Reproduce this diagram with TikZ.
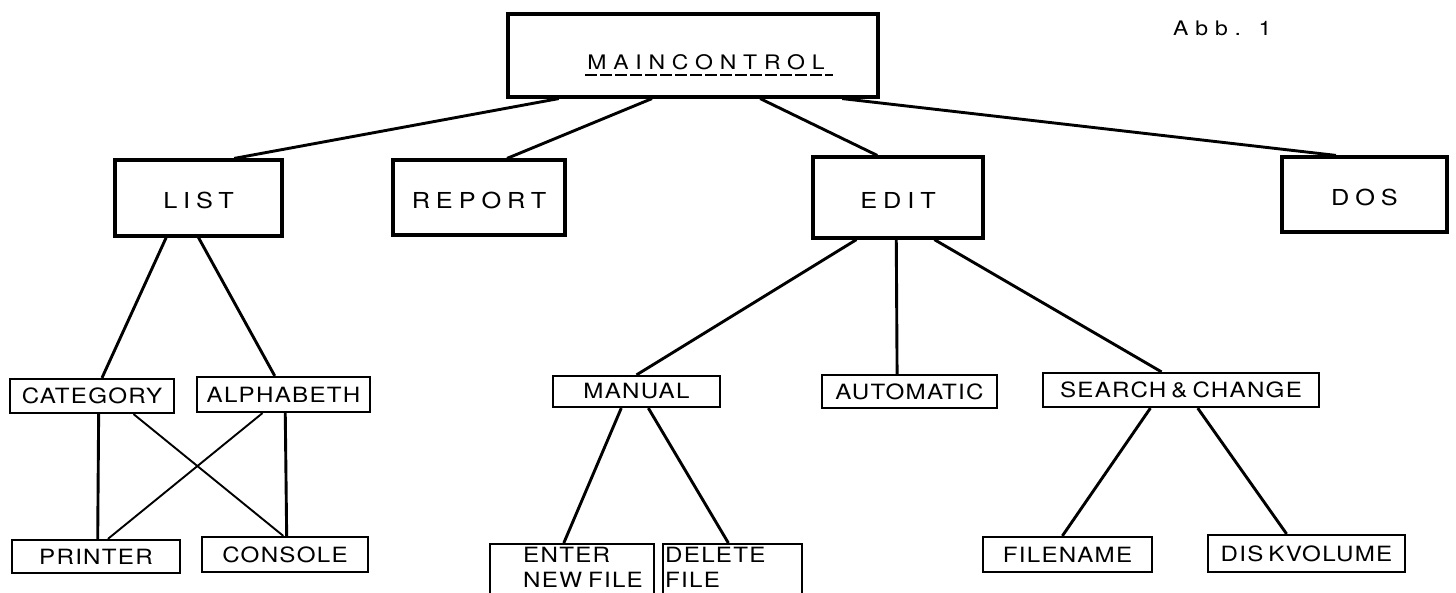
\documentclass[tikz,border=0pt]{standalone}
\usepackage{fontspec}
\usetikzlibrary{calc}
\newfontfamily\topfont[FakeStretch=1.15,LetterSpace=27]{TeX Gyre Heros}
\newfontfamily\titlefont[FakeStretch=1.15,LetterSpace=34]{TeX Gyre Heros}
\newfontfamily\lowfont[FakeStretch=1.15,LetterSpace=6]{TeX Gyre Heros}
\tikzset{
  topbox/.style={draw, line width=3.2pt, inner sep=0pt, text height=21pt, text depth=0pt, font=\topfont\fontsize{22}{26}\selectfont},
  lowbox/.style={draw, line width=2.2pt, inner sep=0pt, font=\lowfont\fontsize{21}{25}\selectfont},
  lowtext/.style={inner sep=0pt, align=left, font=\lowfont\fontsize{21}{25}\selectfont},
  toptext/.style={inner sep=0pt, font=\titlefont\fontsize{20}{24}\selectfont},
  link/.style={line width=2.9pt},
  thinlink/.style={line width=1.9pt},
}
\begin{document}
\begin{tikzpicture}[x=1pt,y=-1pt]
\useasboundingbox[fill=white] (0,0) rectangle (1456,592);
\clip (0,0) rectangle (1456,592);
% top level
\node[topbox, minimum width=370pt, minimum height=83pt] (main) at (693,55.5) {};
\node[toptext] (maintitle) at (706,62) {MAINCONTROL};
\draw[line width=1.8pt, dash pattern=on 12pt off 3pt] (585,75) -- (833,75);
\node[toptext, anchor=west] (abb) at (1173,28) {Abb. 1};
\node[topbox, minimum width=167pt, minimum height=76pt] (list) at (198.5,198) {LIST};
\node[topbox, minimum width=172pt, minimum height=75pt] (report) at (479,197.5) {REPORT};
\node[topbox, minimum width=170pt, minimum height=81pt] (edit) at (898,197.5) {EDIT};
\node[topbox, minimum width=165pt, minimum height=75pt] (dos) at (1364.5,194.5) {DOS};
% second / third level
\node[lowbox, minimum width=164pt, minimum height=34pt] (category) at (92,396) {CATEGORY};
\node[lowbox, minimum width=173pt, minimum height=35pt] (alphabeth) at (283.5,394.5) {ALPHABETH};
\node[lowbox, minimum width=168pt, minimum height=33pt] (printer) at (96,556.5) {PRINTER};
\node[lowbox, minimum width=166pt, minimum height=35pt] (console) at (285,554.5) {CONSOLE};
\node[lowbox, minimum width=167pt, minimum height=31pt] (manual) at (636.5,391.5) {MANUAL};
\node[lowbox, minimum width=175pt, minimum height=33pt] (automatic) at (909.5,391.5) {AUTOMATIC};
\node[lowbox, minimum width=276pt, minimum height=34pt] (search) at (1181,390) {SEARCH\hspace{5pt}\&\hspace{5pt}CHANGE};
\node[lowbox, minimum width=169pt, minimum height=35pt] (filename) at (1067.5,554.5) {FILENAME};
\node[lowbox, minimum width=197pt, minimum height=37pt] (diskvolume) at (1306.5,553.5) {DIS\hspace{5pt}KVOLUME};
\node[lowbox, anchor=north west, minimum width=164pt, minimum height=52pt] (enter) at (489,543) {};
\node[lowtext, anchor=north west] (entertext) at (523,547) {ENTER\\NEW\hspace{6pt}FILE};
\node[lowbox, anchor=north west, minimum width=139pt, minimum height=52pt] (delete) at (662,543) {};
\node[lowtext, anchor=north west] (deletetext) at (665,547) {DELETE\\FILE};
% connectors from MAINCONTROL
\draw[link] ($(main.south west)!.14!(main.south east)$) -- ($(list.north west)!.71!(list.north east)$);
\draw[link] ($(main.south west)!.39!(main.south east)$) -- ($(report.north west)!.66!(report.north east)$);
\draw[link] ($(main.south west)!.68!(main.south east)$) -- ($(edit.north west)!.38!(edit.north east)$);
\draw[link] ($(main.south west)!.90!(main.south east)$) -- ($(dos.north west)!.33!(dos.north east)$);
% LIST subtree
\draw[link] ($(list.south west)!.31!(list.south east)$) -- ($(category.north west)!.56!(category.north east)$);
\draw[link] ($(list.south west)!.50!(list.south east)$) -- ($(alphabeth.north west)!.45!(alphabeth.north east)$);
\draw[link] ($(category.south west)!.54!(category.south east)$) -- ($(printer.north west)!.51!(printer.north east)$);
\draw[thinlink] ($(category.south west)!.75!(category.south east)$) -- ($(console.north west)!.49!(console.north east)$);
\draw[thinlink] ($(alphabeth.south west)!.38!(alphabeth.south east)$) -- ($(printer.north west)!.57!(printer.north east)$);
\draw[link] ($(alphabeth.south west)!.51!(alphabeth.south east)$) -- ($(console.north west)!.51!(console.north east)$);
% EDIT subtree
\draw[link] ($(edit.south west)!.26!(edit.south east)$) -- ($(manual.north west)!.50!(manual.north east)$);
\draw[link] ($(edit.south west)!.49!(edit.south east)$) -- ($(automatic.north west)!.43!(automatic.north east)$);
\draw[link] ($(edit.south west)!.71!(edit.south east)$) -- ($(search.north west)!.43!(search.north east)$);
\draw[link] ($(manual.south west)!.41!(manual.south east)$) -- ($(enter.north west)!.45!(enter.north east)$);
\draw[link] ($(manual.south west)!.57!(manual.south east)$) -- ($(delete.north west)!.47!(delete.north east)$);
\draw[link] ($(search.south west)!.39!(search.south east)$) -- ($(filename.north west)!.47!(filename.north east)$);
\draw[link] ($(search.south west)!.56!(search.south east)$) -- ($(diskvolume.north west)!.40!(diskvolume.north east)$);
\end{tikzpicture}
\end{document}
